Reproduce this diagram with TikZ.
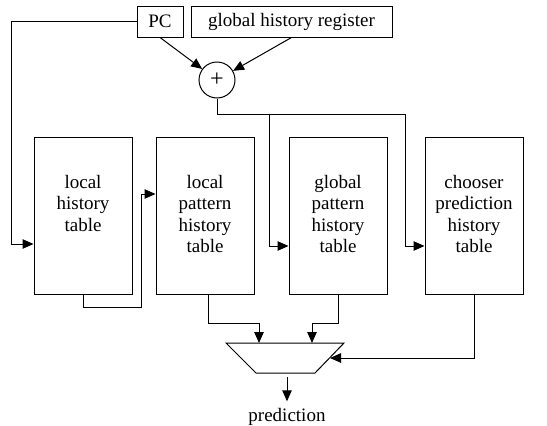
\documentclass[tikz,border=0pt]{standalone}
\usepackage{fontspec}
\setmainfont{Liberation Serif}
\usetikzlibrary{arrows.meta}

\begin{document}
\begin{tikzpicture}[x = 1pt, y = -1pt, line width = 1pt,
                    font = \rmfamily\fontsize{19}{21.5}\selectfont]
\tikzstyle{RegStyle}=[draw, inner sep = 0pt,
                      minimum height = 31pt]
\tikzstyle{TableStyle}=[draw, inner sep = 0pt,
                        minimum width = 98pt,
                        minimum height = 157pt]
\tikzstyle{TextStyle}=[anchor = north, align = center, inner sep = 0pt]
\tikzstyle{post}=[-{Triangle[length = 11pt, width = 9.5pt]}]
\useasboundingbox (0,0) rectangle (547,426);
\node[RegStyle, minimum width = 46pt] (pc) at (160,21.5) {PC};
\node[RegStyle, minimum width = 201pt] (ghr) at (291.5,21.5) {global history register};
\node[draw, circle, minimum size = 36pt, inner sep = 0pt] (sum) at (217,80) {\fontsize{24}{24}\selectfont +};
\node[TableStyle] (lht) at (83,215.5) {};
\node[TableStyle] (lpht) at (205,215.5) {};
\node[TableStyle] (gpht) at (338,215.5) {};
\node[TableStyle] (cpht) at (474,215.5) {};
\node[TextStyle] at ([yshift = -38pt]lht.north) {local\\history\\table};
\node[TextStyle] at ([yshift = -38pt]lpht.north) {local\\pattern\\history\\table};
\node[TextStyle] at ([yshift = -38pt]gpht.north) {global\\pattern\\history\\table};
\node[TextStyle] at ([yshift = -38pt]cpht.north) {chooser\\prediction\\history\\table};
\draw (226,343) -- (344,343) -- (315,373) -- (256,373) -- cycle;
\coordinate (muxa) at (259,343);
\coordinate (muxb) at (312,343);
\coordinate (muxc) at (330,358);
\coordinate (muxo) at (287,377);
\node[anchor = base, inner sep = 0pt] (pred) at (287,421) {prediction};
\coordinate (lin) at ([yshift = -28.5pt]lht.west);
\coordinate (lpin) at ([yshift = 21.5pt]lpht.west);
\coordinate (gin) at ([yshift = -30.5pt]gpht.west);
\coordinate (cin) at ([yshift = -30.5pt]cpht.west);
\draw[post] (pc.south) -- (sum);
\draw[post] (ghr.south) -- (sum);
\draw[post] (pc.west) -| ([xshift = -22pt]lin) -- (lin);
\draw[post] (sum.south) -- ++(0,16) -| ([xshift = -19pt]gin) -- (gin);
\draw[post] (sum.south) -- ++(0,16) -| ([xshift = -19pt]cin) -- (cin);
\draw[post] (lht.south) -- ++(0,13) -| ([xshift = -14pt]lpin) -- (lpin);
\draw[post] ([xshift = 3pt]lpht.south) -- ++(0,29) -| (muxa);
\draw[post] (gpht.south) -- ++(0,29) -| (muxb);
\draw[post] (cpht.south) |- (muxc);
\draw[post] (muxo) -- ([yshift = 6pt]pred.north);
\end{tikzpicture}
\end{document}
